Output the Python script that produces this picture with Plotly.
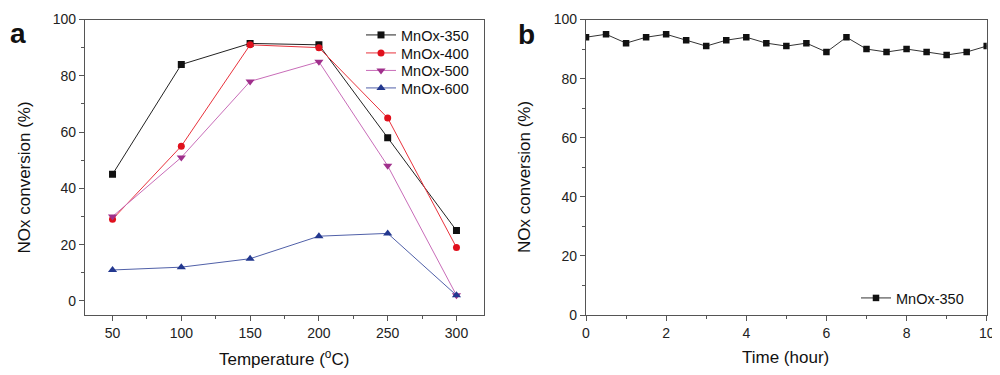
import plotly.graph_objects as go
from plotly.subplots import make_subplots

temperature = [50, 100, 150, 200, 250, 300]
mnox_350 = [45, 84, 91.5, 91, 58, 25]
mnox_400 = [29, 55, 91, 90, 65, 19]
mnox_500 = [30, 51, 78, 85, 48, 2]
mnox_600 = [11, 12, 15, 23, 24, 2]

time_hour = [0, 0.5, 1, 1.5, 2, 2.5, 3, 3.5, 4, 4.5, 5, 5.5, 6, 6.5, 7, 7.5, 8, 8.5, 9, 9.5, 10]
stability_350 = [94, 95, 92, 94, 95, 93, 91, 93, 94, 92, 91, 92, 89, 94, 90, 89, 90, 89, 88, 89, 91]

FONT = "Liberation Sans, Arial, sans-serif"
AXC = "#555555"
W, H = 992, 367   # page body has an 8px margin
OFF = 8

def px(x):
    return (x - OFF) / W

def py(y):
    return 1 - (y - OFF) / H

fig = make_subplots(rows=1, cols=2)

series = [
    ("MnOx-350", mnox_350, "#222222", "#111111", "square", 7, "legend", 35),
    ("MnOx-400", mnox_400, "#e8323c", "#e0101c", "circle", 7, "legend2", 53),
    ("MnOx-500", mnox_500, "#c86cb8", "#a0308c", "triangle-down", 8, "legend3", 70.5),
    ("MnOx-600", mnox_600, "#5060a8", "#23388f", "triangle-up", 8, "legend4", 88),
]
legend_cfg = {}
for name, ys, lc, mc, sym, sz, lg, ly in series:
    fig.add_trace(go.Scatter(x=temperature, y=ys, name=name, mode="lines+markers",
                             line=dict(color=lc, width=1),
                             marker=dict(symbol=sym, size=sz, color=mc),
                             legend=lg), row=1, col=1)
    legend_cfg[lg] = dict(x=px(361), y=py(ly), xanchor="left", yanchor="middle",
                          bgcolor="rgba(0,0,0,0)", itemwidth=30,
                          font=dict(family=FONT, size=14.5, color="#111111"))

fig.add_trace(go.Scatter(x=time_hour, y=stability_350, name="MnOx-350", mode="lines+markers",
                         line=dict(color="#333333", width=1),
                         marker=dict(symbol="square", size=6.5, color="#111111"),
                         legend="legend5"), row=1, col=2)
legend_cfg["legend5"] = dict(x=px(856), y=py(298), xanchor="left", yanchor="middle",
                             bgcolor="rgba(0,0,0,0)", itemwidth=30,
                             font=dict(family=FONT, size=14.5, color="#111111"))

axis_common = dict(showline=True, linecolor=AXC, linewidth=1.2, mirror=True, automargin=False,
                   ticks="outside", ticklen=5, tickcolor=AXC, showgrid=False, zeroline=False,
                   tickfont=dict(family=FONT, size=14, color="#222222"))

ydom = [py(315), py(19.5)]
fig.update_xaxes(axis_common, row=1, col=1, domain=[px(85), px(484)], range=[30, 320],
                 tickvals=temperature, minor=dict(dtick=25, tick0=25, ticks="outside", ticklen=3, tickcolor=AXC))
fig.update_yaxes(axis_common, row=1, col=1, domain=ydom, range=[-5, 100],
                 tickvals=[0, 20, 40, 60, 80, 100],
                 minor=dict(dtick=10, tick0=0, ticks="outside", ticklen=3, tickcolor=AXC))
fig.update_xaxes(axis_common, row=1, col=2, domain=[px(586), px(986.7)], range=[0, 10],
                 tickvals=[0, 2, 4, 6, 8, 10],
                 minor=dict(dtick=1, tick0=0, ticks="outside", ticklen=3, tickcolor=AXC))
fig.update_yaxes(axis_common, row=1, col=2, domain=ydom, range=[0, 100],
                 tickvals=[0, 20, 40, 60, 80, 100],
                 minor=dict(dtick=10, tick0=0, ticks="outside", ticklen=3, tickcolor=AXC))

ann = [
    dict(text="<b>a</b>", x=0.0, y=py(33), xanchor="left", font=dict(size=28)),
    dict(text="<b>b</b>", x=px(526.5), y=py(34), font=dict(size=28)),
    dict(text="NOx conversion (%)", x=px(24), y=py(177.5), textangle=-90, font=dict(size=17)),
    dict(text="NOx conversion (%)", x=px(524.5), y=py(177.5), textangle=-90, font=dict(size=17)),
    dict(text="Temperature (<sup>o</sup>C)", x=px(283.7), y=py(358), font=dict(size=17)),
    dict(text="Time (hour)", x=px(785.8), y=py(357.5), font=dict(size=17)),
]
for a in ann:
    f = dict(family=FONT, color="#111111")
    f.update(a.pop("font"))
    a.setdefault("xanchor", "center")
    fig.add_annotation(xref="paper", yref="paper", showarrow=False,
                       yanchor="middle", font=f, **a)

fig.update_layout(
    width=W, height=H,
    margin=dict(l=0, r=0, t=0, b=0, autoexpand=False),
    paper_bgcolor="white", plot_bgcolor="white",
    showlegend=True,
    **legend_cfg,
)

fig.write_html("out.html")
